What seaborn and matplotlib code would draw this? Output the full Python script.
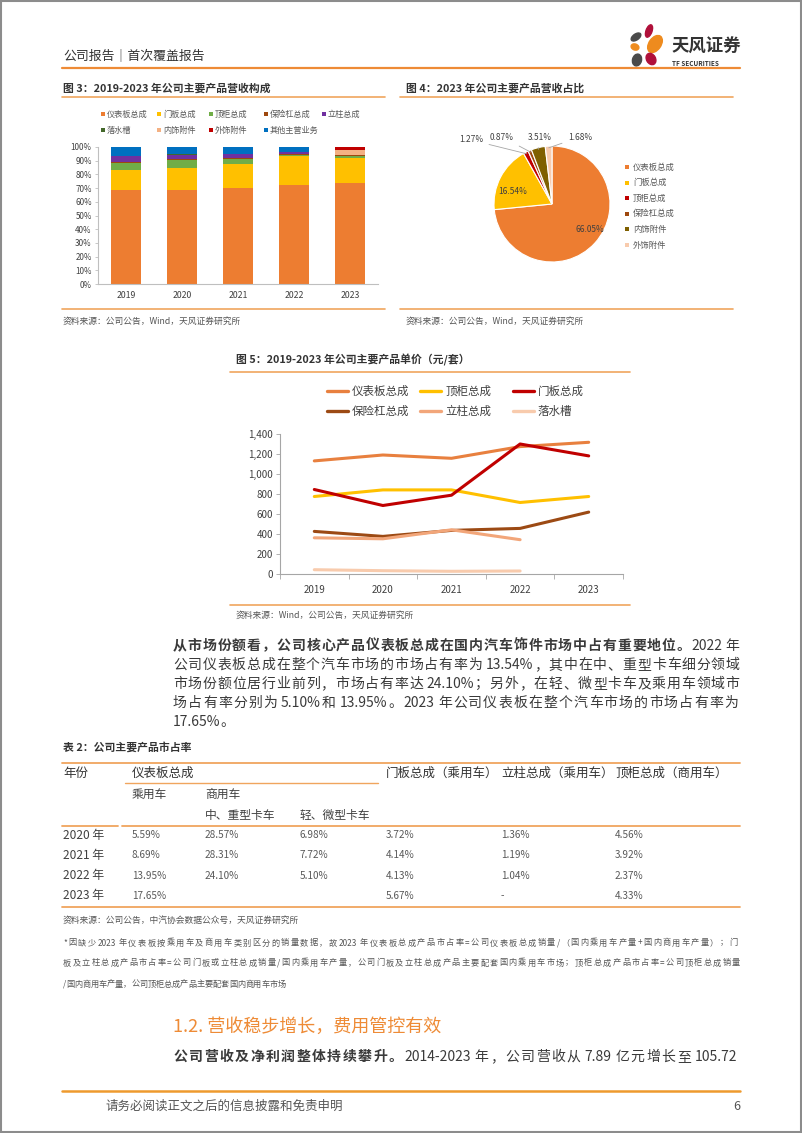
import re
import numpy as np
import pandas as pd
import matplotlib
matplotlib.use('Agg')
import matplotlib.pyplot as plt
import seaborn as sns
from matplotlib.lines import Line2D
from matplotlib.patches import Rectangle, Ellipse

# ---------------- data ----------------
years = ['2019', '2020', '2021', '2022', '2023']

mix_names = ['仪表板总成', '门板总成', '顶柜总成', '保险杠总成', '立柱总成',
             '落水槽', '内饰附件', '外饰附件', '其他主营业务']
share_dashboard = [68.8, 68.8, 70.2, 72.4, 73.4]
share_door = [14.6, 16.1, 17.4, 20.8, 18.4]
share_cabinet = [5.2, 5.8, 3.6, 0.6, 1.4]
share_bumper = [0.5, 0.4, 0.6, 1.0, 1.0]
share_pillar = [4.0, 3.3, 3.3, 1.8, 0.0]
share_gutter = [0.2, 0.2, 0.1, 0.0, 0.0]
share_interior = [0.0, 0.0, 0.0, 0.0, 3.9]
share_exterior = [0.0, 0.0, 0.0, 0.0, 1.9]
share_other = [6.7, 5.4, 4.8, 3.4, 0.0]
mix_colors = ['#ED7D31', '#FFC000', '#70AD47', '#9E480E', '#7030A0',
              '#43682B', '#F4B183', '#C00000', '#0070C0']

pie_names = ['仪表板总成', '门板总成', '顶柜总成', '保险杠总成', '内饰附件', '外饰附件']
pie_values = [66.05, 16.54, 1.27, 0.87, 3.51, 1.68]
pie_colors = ['#ED7D31', '#FFC000', '#C00000', '#9E480E', '#7F6000', '#F8CBAD']

price_names = ['仪表板总成', '顶柜总成', '门板总成', '保险杠总成', '立柱总成', '落水槽']
price_dashboard = [1131, 1190, 1157, 1274, 1317]
price_cabinet = [775, 841, 841, 715, 775]
price_door = [845, 685, 788, 1300, 1181]
price_bumper = [426, 376, 436, 456, 619]
price_pillar = [362, 352, 442, 343, None]
price_gutter = [43, 33, 27, 30, None]
price_colors = ['#E8803F', '#FFC000', '#C00000', '#9C4A14', '#F2A67A', '#F8CBAD']

table_years = ['2020 年', '2021 年', '2022 年', '2023 年']
tbl_passenger = ['5.59%', '8.69%', '13.95%', '17.65%']
tbl_heavy = ['28.57%', '28.31%', '24.10%', '']
tbl_light = ['6.98%', '7.72%', '5.10%', '']
tbl_door = ['3.72%', '4.14%', '4.13%', '5.67%']
tbl_pillar = ['1.36%', '1.19%', '1.04%', '-']
tbl_cabinet = ['4.56%', '3.92%', '2.37%', '4.33%']

# ---------------- setup ----------------
sns.set_theme(style='white')
plt.rcParams['font.family'] = ['Noto Sans CJK SC', 'DejaVu Sans']
plt.rcParams['axes.unicode_minus'] = False

W, H = 802, 1133
fig = plt.figure(figsize=(W / 100, H / 100), dpi=100)
fig.patch.set_facecolor('white')
renderer = fig.canvas.get_renderer()

TXT = '#3A3A3A'
ORANGE_LINE = '#F0A55E'
HEAD_LINE = '#EE8B36'


def fx(x):
    return x / W


def fy(y):
    return 1 - y / H


def px_axes(x0, y0, x1, y1):
    return fig.add_axes([fx(x0), fy(y1), (x1 - x0) / W, (y1 - y0) / H])


def txt(x, y, s, size, color=TXT, weight='normal', ha='left', va='center', **kw):
    return fig.text(fx(x), fy(y), s, fontsize=size, color=color, fontweight=weight,
                    ha=ha, va=va, **kw)


def hline(x0, x1, y, color=ORANGE_LINE, lw=1.2):
    fig.add_artist(Line2D([fx(x0), fx(x1)], [fy(y), fy(y)], color=color, lw=lw,
                          transform=fig.transFigure))


def square(x, y, s, color):
    fig.add_artist(Rectangle((fx(x - s / 2), fy(y + s / 2)), s / W, s / H,
                             facecolor=color, edgecolor='none', transform=fig.transFigure))


def justify(x0, x1, y, segs, size, color=TXT, do_justify=True):
    tokens = []
    for s, w in segs:
        for t in re.findall(r'[A-Za-z0-9.%\-]+|.', s):
            tokens.append((t, w))
    arts, widths, spaces = [], [], []
    for t, w in tokens:
        if t == ' ':
            arts.append(None)
            widths.append(size * 0.22 * 100 / 72)
            spaces.append(True)
            continue
        a = fig.text(0, 0, t, fontsize=size, color=color, fontweight=w, va='center', ha='left')
        arts.append(a)
        widths.append(a.get_window_extent(renderer).width)
        spaces.append(False)
    n_real = sum(1 for s in spaces if not s)
    gap = (x1 - x0 - sum(widths)) / max(n_real - 1, 1) if do_justify else 0
    x = x0
    for k, (a, wd) in enumerate(zip(arts, widths)):
        if a is None:
            x += wd
            continue
        a.set_position((fx(x), fy(y)))
        x += wd
        nxt_space = k + 1 < len(arts) and arts[k + 1] is None
        if not nxt_space:
            x += gap
        else:
            x += gap * 0.5


# page border
fig.add_artist(Rectangle((0.001, 0.001), 0.998, 0.998, fill=False, edgecolor='#8C8C8C',
                         lw=1.5, transform=fig.transFigure))

# ---------------- header ----------------
txt(63, 57, '公司报告｜首次覆盖报告', 9.3, color='#333333')
hline(62, 740, 68, HEAD_LINE, 1.6)

axl = px_axes(626, 24, 672, 70)
axl.set_xlim(626, 672)
axl.set_ylim(70, 24)
axl.axis('off')
petals = [((636, 37), 11, 6, -35, '#4A4A4A'),
          ((649, 31), 6, 13, 20, '#B0103A'),
          ((655, 44), 12, 19, 35, '#EE8B1E'),
          ((635, 47), 8, 6, 20, '#EE8B1E'),
          ((637, 60), 9, 12, 15, '#4A4A4A'),
          ((651, 59), 9, 12, -30, '#B0103A')]
for (cx, cy), w, h, ang, c in petals:
    axl.add_patch(Ellipse((cx, cy), w, h, angle=ang, color=c))
txt(671, 47, '天风证券', 12.5, color='#333333', weight='bold')
txt(672, 63, 'TF SECURITIES', 4.6, color='#333333', weight='bold')

# ---------------- figure 3 ----------------
txt(63, 88, '图 3：2019-2023 年公司主要产品营收构成', 7.8, color='#333333', weight='bold')
hline(62, 385, 97)
hline(62, 385, 309)
txt(63, 321, '资料来源：公司公告，Wind，天风证券研究所', 6.3, color='#555555')

leg3_pos = [(103, 114), (159, 114), (211, 114), (266, 114), (324, 114),
            (103, 130), (159, 130), (211, 130), (266, 130)]
for (lx, ly), name, c in zip(leg3_pos, mix_names, mix_colors):
    square(lx, ly, 4.5, c)
    txt(lx + 4, ly, name, 5.9, color='#595959')

ax3 = px_axes(98, 147, 378, 284)
layers = [share_dashboard, share_door, share_cabinet, share_bumper, share_pillar,
          share_gutter, share_interior, share_exterior, share_other]
cum = np.cumsum(np.array(layers, dtype=float), axis=0)
for i in range(len(layers) - 1, -1, -1):
    sns.barplot(x=years, y=cum[i], color=mix_colors[i], saturation=1, width=0.52,
                linewidth=0, ax=ax3)
ax3.set_xlim(-0.5, 4.5)
ax3.set_ylim(0, 100)
ax3.set_yticks(range(0, 101, 10))
ax3.set_yticklabels([f'{v}%' for v in range(0, 101, 10)])
ax3.set_xlabel('')
ax3.set_ylabel('')
for sp in ['top', 'right']:
    ax3.spines[sp].set_visible(False)
for sp in ['left', 'bottom']:
    ax3.spines[sp].set_color('#BFBFBF')
    ax3.spines[sp].set_linewidth(0.8)
ax3.tick_params(axis='y', length=2.5, width=0.6, color='#BFBFBF', labelsize=5.8,
                labelcolor='#404040', pad=2, left=True)
ax3.tick_params(axis='x', length=0, labelsize=6.3, labelcolor='#404040', pad=5)

# ---------------- figure 4 ----------------
txt(406, 88, '图 4：2023 年公司主要产品营收占比', 7.8, color='#333333', weight='bold')
hline(400, 733, 97)
hline(400, 733, 309)
txt(406, 321, '资料来源：公司公告，Wind，天风证券研究所', 6.3, color='#555555')

ax4 = px_axes(494, 146, 610, 262)
wedges, _ = ax4.pie(pie_values, colors=pie_colors, startangle=90, counterclock=False,
                    radius=1, wedgeprops=dict(edgecolor='white', linewidth=0.8))
ax4.set_xlim(-1, 1)
ax4.set_ylim(-1, 1)
ax4.set_aspect('equal')
ax4.axis('off')

cx0, cy0, rr = 552, 204, 58


def d(xp, yp):
    return ((xp - cx0) / rr, (cy0 - yp) / rr)


pie_label_pos = [(590, 229), (513, 192), (471, 140), (502, 137), (540, 137), (580, 137)]
for i, (w, v) in enumerate(zip(wedges, pie_values)):
    lab = f'{v:.2f}%'
    tx, ty = d(*pie_label_pos[i])
    if i < 2:
        ax4.text(tx, ty, lab, ha='center', va='center', fontsize=6, color='#404040')
    else:
        ang = np.deg2rad((w.theta1 + w.theta2) / 2)
        ex, ey = 0.97 * np.cos(ang), 0.97 * np.sin(ang)
        ax4.annotate(lab, xy=(ex, ey), xytext=(tx, ty), ha='center', va='center',
                     fontsize=6, color='#404040', annotation_clip=False,
                     arrowprops=dict(arrowstyle='-', color='#A6A6A6', lw=0.6,
                                     shrinkA=2, shrinkB=0))

for i, (name, c) in enumerate(zip(pie_names, pie_colors)):
    ly = 167 + i * 15.6
    square(627, ly, 4, c)
    txt(633, ly, name, 6, color='#595959')

# ---------------- figure 5 ----------------
txt(236, 360, '图 5：2019-2023 年公司主要产品单价（元/套）', 7.8, color='#333333', weight='bold')
hline(230, 630, 372)
hline(230, 630, 605)
txt(236, 615, '资料来源：Wind，公司公告，天风证券研究所', 6.3, color='#555555')

price_series = [price_dashboard, price_cabinet, price_door, price_bumper, price_pillar, price_gutter]
rows = []
for name, vals in zip(price_names, price_series):
    for i, v in enumerate(vals):
        if v is not None:
            rows.append({'product': name, 'idx': i, 'price': v})
df5 = pd.DataFrame(rows)

ax5 = px_axes(280, 434, 623, 574)
sns.lineplot(data=df5, x='idx', y='price', hue='product', hue_order=price_names,
             palette=dict(zip(price_names, price_colors)), linewidth=2.2, legend=False,
             sort=False, ax=ax5)
ax5.set_xlim(-0.5, 4.5)
ax5.set_ylim(0, 1400)
ax5.set_xticks(range(5))
ax5.set_xticklabels(years)
ax5.set_xticks(np.arange(-0.5, 4.6, 1), minor=True)
ax5.set_yticks(range(0, 1401, 200))
ax5.set_yticklabels([f'{v:,}' for v in range(0, 1401, 200)])
ax5.set_xlabel('')
ax5.set_ylabel('')
for sp in ['top', 'right']:
    ax5.spines[sp].set_visible(False)
for sp in ['left', 'bottom']:
    ax5.spines[sp].set_color('#A6A6A6')
    ax5.spines[sp].set_linewidth(0.8)
ax5.tick_params(axis='x', which='major', length=0, labelsize=7, labelcolor='#404040', pad=8)
ax5.tick_params(axis='x', which='minor', length=3.5, width=0.6, color='#A6A6A6', bottom=True)
ax5.tick_params(axis='y', length=3, width=0.6, color='#A6A6A6', labelsize=7,
                labelcolor='#404040', pad=2, left=True)

leg5_cols = [327, 420, 513]
for i, (name, c) in enumerate(zip(price_names, price_colors)):
    lx = leg5_cols[i % 3]
    ly = 391 if i < 3 else 411
    fig.add_artist(Line2D([fx(lx), fx(lx + 21)], [fy(ly), fy(ly)], color=c, lw=2.4,
                          transform=fig.transFigure))
    txt(lx + 25, ly, name, 8.3, color='#404040')

# ---------------- paragraph ----------------
P = 10
justify(173, 740, 646, [('从市场份额看，公司核心产品仪表板总成在国内汽车饰件市场中占有重要地位。', 'bold'),
                        ('2022 年', 'normal')], P)
justify(173, 740, 665, [('公司仪表板总成在整个汽车市场的市场占有率为 13.54%，其中在中、重型卡车细分领域', 'normal')], P)
justify(173, 740, 684, [('市场份额位居行业前列，市场占有率达 24.10%；另外，在轻、微型卡车及乘用车领域市', 'normal')], P)
justify(173, 740, 703, [('场占有率分别为 5.10%和 13.95%。2023 年公司仪表板在整个汽车市场的市场占有率为', 'normal')], P)
justify(173, 740, 722, [('17.65%。', 'normal')], P, do_justify=False)

# ---------------- table ----------------
txt(63, 747, '表 2：公司主要产品市占率', 7.8, color='#333333', weight='bold')
hline(62, 740, 763, ORANGE_LINE, 1.3)
TH = 9
txt(63, 773, '年份', TH, color='#333333')
txt(132, 773, '仪表板总成', TH, color='#333333')
txt(386, 773, '门板总成（乘用车）', TH, color='#333333')
txt(501, 773, '立柱总成（乘用车）', TH, color='#333333')
txt(615, 773, '顶柜总成（商用车）', TH, color='#333333')
hline(125, 378, 783, ORANGE_LINE, 1.0)
txt(132, 794, '乘用车', TH - 0.5, color='#404040')
txt(205, 794, '商用车', TH - 0.5, color='#404040')
txt(205, 815, '中、重型卡车', TH - 0.5, color='#404040')
txt(300, 815, '轻、微型卡车', TH - 0.5, color='#404040')
hline(62, 118, 826, ORANGE_LINE, 1.3)
hline(122, 740, 826, ORANGE_LINE, 1.3)

col_x = [132, 205, 300, 386, 501, 615]
cols = [tbl_passenger, tbl_heavy, tbl_light, tbl_door, tbl_pillar, tbl_cabinet]
for r, yr in enumerate(table_years):
    yy = 835 + r * 20.3
    txt(63, yy, yr, 8.6, color='#404040')
    for cx, col in zip(col_x, cols):
        txt(cx, yy, col[r], 7.2, color='#595959')
hline(62, 740, 907, ORANGE_LINE, 1.3)
txt(63, 920, '资料来源：公司公告，中汽协会数据公众号，天风证券研究所', 6.3, color='#555555')

F = 5.9
justify(63, 740, 943, [('*因缺少 2023 年仪表板按乘用车及商用车类别区分的销量数据，故 2023 年仪表板总成产品市占率=公司仪表板总成销量/（国内乘用车产量+国内商用车产量）；门', 'normal')], F, color='#555555')
justify(63, 740, 963, [('板及立柱总成产品市占率=公司门板或立柱总成销量/国内乘用车产量，公司门板及立柱总成产品主要配套国内乘用车市场；顶柜总成产品市占率=公司顶柜总成销量', 'normal')], F, color='#555555')
justify(63, 740, 984, [('/国内商用车产量，公司顶柜总成产品主要配套国内商用车市场', 'normal')], F, color='#555555', do_justify=False)

# ---------------- section ----------------
txt(173, 1027, '1.2. 营收稳步增长，费用管控有效', 13, color='#EE8B36')
justify(173, 740, 1057, [('公司营收及净利润整体持续攀升。', 'bold'),
                         ('2014-2023 年，公司营收从 7.89 亿元增长至 105.72', 'normal')], P)

# ---------------- footer ----------------
hline(62, 740, 1091, '#EE9A2E', 1.8)
txt(105, 1106, '请务必阅读正文之后的信息披露和免责申明', 9, color='#555555')
txt(740, 1106, '6', 9, color='#555555', ha='right')

fig.savefig('out.png', dpi=100, facecolor='white')
